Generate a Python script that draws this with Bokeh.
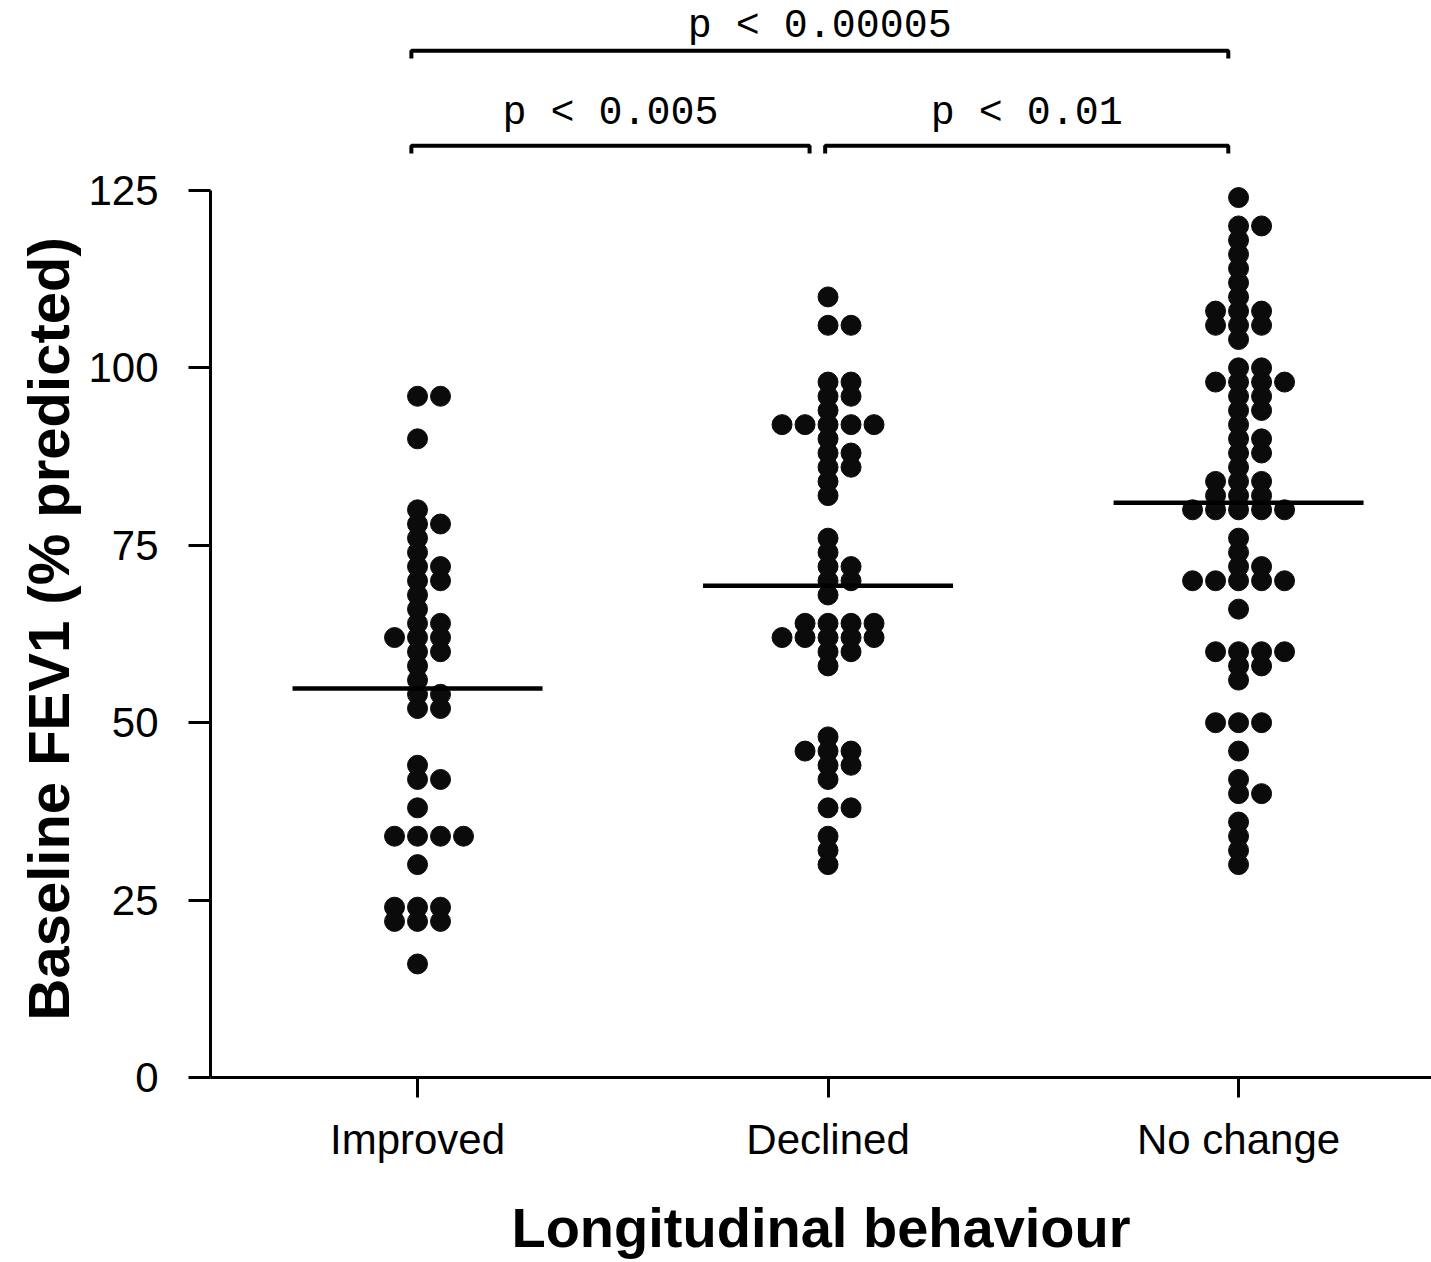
from bokeh.plotting import figure
from bokeh.models import Range1d, LinearAxis, FixedTicker, Title
from bokeh.core.properties import value
from bokeh.embed import file_html
from bokeh.resources import INLINE

# ---------------- data ----------------
categories = ["Improved", "Declined", "No change"]
improved = [96, 96, 90, 80, 78, 78, 76, 74, 72, 72, 70, 70, 68, 66, 64, 64,
            62, 62, 62, 60, 60, 58, 56, 54, 54, 52, 52, 44, 42, 42, 38,
            34, 34, 34, 34, 30, 24, 24, 24, 22, 22, 22, 16]
declined = [110, 106, 106, 98, 98, 96, 96, 94, 92, 92, 92, 92, 92, 90, 88, 88,
            86, 86, 84, 82, 76, 74, 72, 72, 70, 70, 68, 64, 64, 64, 64,
            62, 62, 62, 62, 62, 60, 60, 58, 48, 46, 46, 46, 44, 44, 42,
            38, 38, 34, 32, 30]
no_change = [124, 120, 120, 118, 116, 114, 112, 110, 108, 108, 108, 106, 106, 106,
             104, 100, 100, 98, 98, 98, 98, 96, 96, 94, 94, 92, 90, 90, 88, 88,
             86, 84, 84, 84, 82, 82, 82, 80, 80, 80, 80, 80, 76, 74, 72, 72,
             70, 70, 70, 70, 70, 66, 60, 60, 60, 60, 58, 58, 56, 50, 50, 50,
             46, 42, 40, 40, 36, 34, 32, 30]
group_means = [54.8, 69.3, 81.0]
y_ticks = [0, 25, 50, 75, 100, 125]
comparisons = [(0, 1, "p < 0.005"), (1, 2, "p < 0.01"), (0, 2, "p < 0.00005")]
y_title = "Baseline FEV1 (% predicted)"
x_title = "Longitudinal behaviour"

groups = [improved, declined, no_change]
group_x = [1, 2, 3]

X0, X1 = 0.4957, 3.470
Y1 = 151.77
W, H = 1431, 1262
LEFT, BOTTOM = 210, 185

# ---------------- figure ----------------
p = figure(width=W, height=H,
           x_range=Range1d(X0, X1), y_range=Range1d(0, Y1),
           output_backend="svg", toolbar_location=None,
           x_axis_type=None, y_axis_type=None,
           min_border_left=LEFT, min_border_bottom=BOTTOM,
           min_border_top=0, min_border_right=0)
p.background_fill_color = "white"
p.border_fill_color = "white"
p.outline_line_color = None

px_per_unit = (W - LEFT) / (X1 - X0)

# ---------------- axes ----------------
yaxis = LinearAxis(ticker=FixedTicker(ticks=y_ticks), bounds=(0, 125))
xaxis = LinearAxis(ticker=FixedTicker(ticks=group_x),
                   major_label_overrides={gx: c for gx, c in zip(group_x, categories)},
                   axis_label=x_title)
for ax in (yaxis, xaxis):
    ax.axis_line_width = 3
    ax.axis_line_color = "black"
    ax.major_tick_line_width = 3
    ax.major_tick_line_color = "black"
    ax.major_tick_in = 0
    ax.minor_tick_line_color = None
    ax.major_label_text_font = "Liberation Sans"
    ax.major_label_text_font_size = "42px"
    ax.major_label_text_color = "black"
    ax.axis_label_text_font = "Liberation Sans"
    ax.axis_label_text_font_style = "bold"
    ax.axis_label_text_color = "black"
yaxis.major_tick_out = 22
yaxis.major_label_standoff = 30
xaxis.major_tick_out = 20
xaxis.major_label_standoff = 18
xaxis.axis_label_text_font_size = "56px"
xaxis.axis_label_standoff = 30
p.add_layout(yaxis, "left")
p.add_layout(xaxis, "below")

# y-axis title: starts just above the x axis, like the original
ytitle = Title(text=y_title, align="left", vertical_align="middle", offset=57,
               standoff=8, text_font="Liberation Sans", text_font_style="bold",
               text_font_size="58px", text_color="black")
p.add_layout(ytitle, "left")

# ---------------- dots (dot-plot layout) ----------------
dx = 23.0 / px_per_unit
order = [0, 1, -1, 2, -2, 3, -3]
xs, ys = [], []
for gx, vals in zip(group_x, groups):
    seen = {}
    for v in vals:
        k = seen.get(v, 0)
        seen[v] = k + 1
        xs.append(gx + order[k] * dx)
        ys.append(v)
p.scatter(xs, ys, size=20, marker="circle", fill_color="#0b0b0b", line_color="#0b0b0b")

# ---------------- mean lines ----------------
half = 125.0 / px_per_unit
p.segment(x0=[g - half for g in group_x], x1=[g + half for g in group_x],
          y0=group_means, y1=group_means, line_width=4.5, line_color="black")

# ---------------- significance brackets ----------------
level_y = {1: 131.3, 2: 144.7}
text_y = {1: 135.8, 2: 148.1}
drop = 1.1
bx, by, tx, ty, tt = [], [], [], [], []
for i, j, lab in comparisons:
    lev = j - i
    x0 = group_x[i] - 0.015
    x1 = group_x[j] - 0.025
    if lev == 1 and any(a == j and b - a == 1 for a, b, _ in comparisons):
        x1 -= 0.02
    if lev == 1 and i > 0:
        x0 += 0.008
    y = level_y[lev]
    bx.append([x0, x0, x1, x1])
    by.append([y - drop, y, y, y - drop])
    tx.append((x0 + x1) / 2)
    ty.append(text_y[lev])
    tt.append(lab)
p.multi_line(bx, by, line_width=4, line_color="black")
p.text(x=tx, y=ty, text=tt, text_font=value("Liberation Mono"),
       text_font_size="40px", text_align="center", text_baseline="alphabetic",
       text_color="black")

open("out.html", "w").write(file_html(p, INLINE))
